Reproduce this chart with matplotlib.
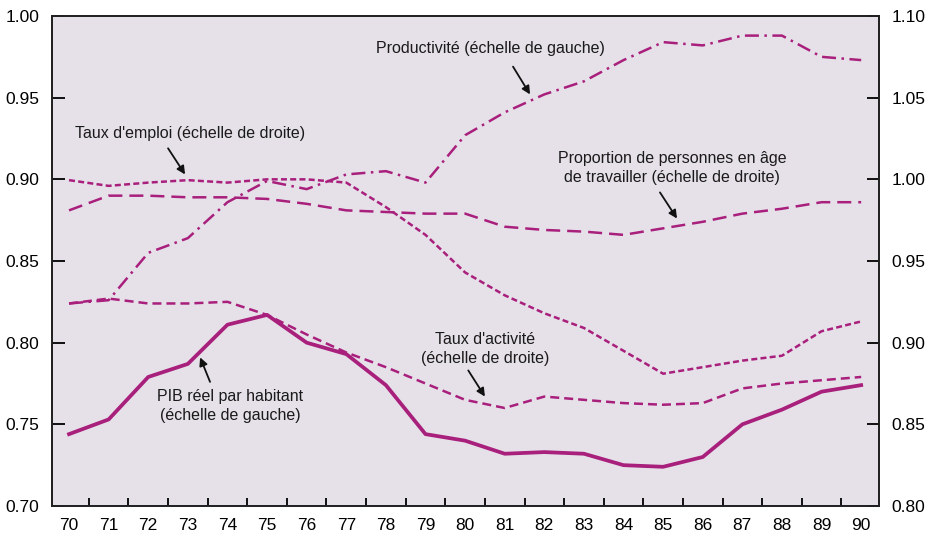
import matplotlib
matplotlib.use("Agg")
import matplotlib.pyplot as plt

years = list(range(70, 91))
year_labels = [str(y) for y in years]

# Left scale
pib = [0.744, 0.753, 0.779, 0.787, 0.811, 0.817, 0.800, 0.793, 0.774, 0.744, 0.740,
       0.732, 0.733, 0.732, 0.725, 0.724, 0.730, 0.750, 0.759, 0.770, 0.774]
productivite = [0.824, 0.826, 0.855, 0.864, 0.886, 0.899, 0.894, 0.903, 0.905, 0.898, 0.927,
                0.941, 0.952, 0.960, 0.973, 0.984, 0.982, 0.988, 0.988, 0.975, 0.973]
# Right scale
taux_emploi = [0.9995, 0.996, 0.998, 0.9995, 0.998, 1.000, 1.000, 0.998, 0.983, 0.966, 0.943,
               0.929, 0.918, 0.909, 0.895, 0.881, 0.885, 0.889, 0.892, 0.907, 0.913]
proportion_age = [0.981, 0.990, 0.990, 0.989, 0.989, 0.988, 0.985, 0.981, 0.980, 0.979, 0.979,
                  0.971, 0.969, 0.968, 0.966, 0.970, 0.974, 0.979, 0.982, 0.986, 0.986]
taux_activite = [0.924, 0.927, 0.924, 0.924, 0.925, 0.917, 0.905, 0.894, 0.885, 0.875, 0.865,
                 0.860, 0.867, 0.865, 0.863, 0.862, 0.863, 0.872, 0.875, 0.877, 0.879]

left_ticks = [0.70, 0.75, 0.80, 0.85, 0.90, 0.95, 1.00]
right_ticks = [0.80, 0.85, 0.90, 0.95, 1.00, 1.05, 1.10]

plt.rcParams['font.family'] = ['Liberation Sans', 'DejaVu Sans']

color = '#a81f7c'
bg = '#e6e1e9'

fig = plt.figure(figsize=(9.3, 5.37), dpi=100)
ax = fig.add_axes([52/930, 1-506/537, (879-52)/930, (506-16)/537])
ax.set_facecolor(bg)
ax2 = ax.twinx()

ax.plot(years, pib, color=color, lw=2.7, solid_joinstyle='round', zorder=5)
ax.plot(years, productivite, color=color, lw=1.8, linestyle=(0, (5.6, 2.2, 1.0, 2.2)))
ax2.plot(years, taux_emploi, color=color, lw=1.8, linestyle=(0, (2.4, 1.3)))
ax2.plot(years, proportion_age, color=color, lw=1.8, linestyle=(0, (5.6, 2.8)))
ax2.plot(years, taux_activite, color=color, lw=1.8, linestyle=(0, (3.6, 2.0)))

ax.set_xlim(69.57, 90.45)
ax.set_ylim(0.70, 1.00)
ax2.set_ylim(0.80, 1.10)

ax.set_xticks(years)
ax.set_xticklabels(year_labels)
ax.set_xticks([y + 0.5 for y in years[:-1]], minor=True)
ax.tick_params(axis='x', which='major', length=0, pad=9, labelsize=12.5)
ax.tick_params(axis='x', which='minor', direction='in', length=6, width=1.3)

ax.set_yticks(left_ticks)
ax.set_yticklabels([f"{v:.2f}" for v in left_ticks])
ax.tick_params(axis='y', direction='in', length=9, width=1.3, pad=9, labelsize=12.5)
ax2.set_yticks(right_ticks)
ax2.set_yticklabels([f"{v:.2f}" for v in right_ticks])
ax2.tick_params(axis='y', direction='in', length=9, width=1.3, pad=9, labelsize=12.5)

for a in (ax, ax2):
    for s in a.spines.values():
        s.set_linewidth(1.3)
        s.set_color('#222222')

tkw = dict(fontsize=11.5, ha='center', va='center', color='#1a1a1a', linespacing=1.35)
arrow = dict(arrowstyle='-|>', color='#111111', lw=1.3, mutation_scale=12, shrinkA=0, shrinkB=0)

ax.text(80.63, 0.980, "Productivité (échelle de gauche)", **tkw)
ax.annotate('', xy=(81.64, 0.952), xytext=(81.21, 0.969), arrowprops=arrow)

ax.text(73.06, 0.928, "Taux d'emploi (échelle de droite)", **tkw)
ax.annotate('', xy=(72.93, 0.903), xytext=(72.5, 0.919), arrowprops=arrow)

ax.text(85.23, 0.907, "Proportion de personnes en âge\nde travailler (échelle de droite)", **tkw)
ax.annotate('', xy=(85.35, 0.876), xytext=(84.92, 0.892), arrowprops=arrow)

ax.text(80.5, 0.796, "Taux d'activité\n(échelle de droite)", **tkw)
ax.annotate('', xy=(80.5, 0.767), xytext=(80.08, 0.783), arrowprops=arrow)

ax.text(74.07, 0.761, "PIB réel par habitant\n(échelle de gauche)", **tkw)
ax.annotate('', xy=(73.31, 0.791), xytext=(73.56, 0.776), arrowprops=arrow)

fig.savefig("out.png", dpi=100)
